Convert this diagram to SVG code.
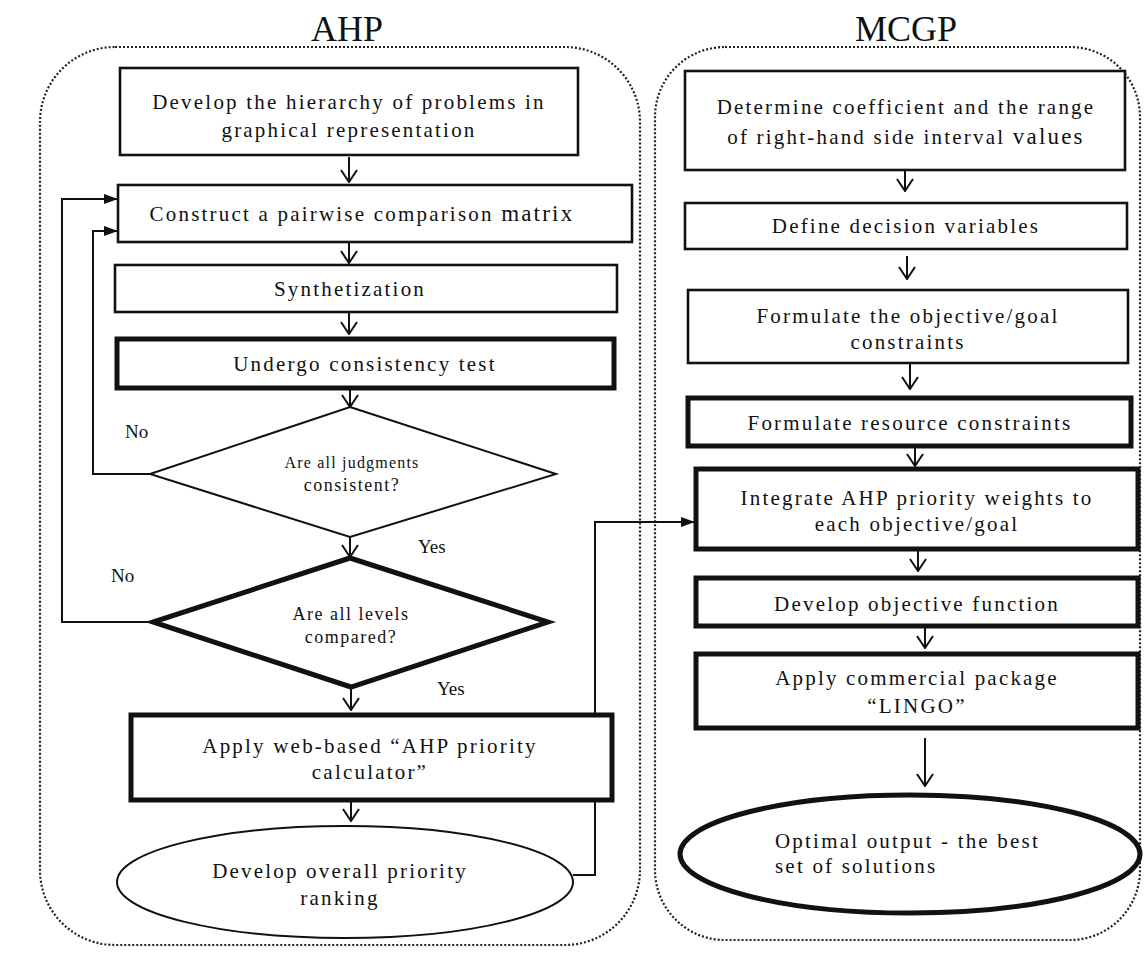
<svg xmlns="http://www.w3.org/2000/svg" width="1145" height="953" viewBox="0 0 1145 953">
<style>
text{font-family:"Liberation Serif","Times New Roman",serif;fill:#111;text-anchor:middle}
.t{font-size:21px;letter-spacing:2.2px}
.s{font-size:16px;letter-spacing:1.2px}
.m{font-size:18px;letter-spacing:1.5px}
.big{font-size:23px}
.title{font-size:36px}
.lbl{font-size:19px;text-anchor:start}
.b{fill:#fff;stroke:#111;stroke-width:2.6}
.k{fill:#fff;stroke:#111;stroke-width:5}
.cont{fill:none;stroke:#222;stroke-width:2.2;stroke-dasharray:2 2}
.c{fill:none;stroke:#111;stroke-width:2}
</style>
<defs>
<marker id="v" viewBox="0 0 14 18" refX="13" refY="9" markerWidth="14" markerHeight="18" markerUnits="userSpaceOnUse" orient="auto">
<path d="M1,1 L13,9 L1,17" fill="none" stroke="#111" stroke-width="2"/>
</marker>
<marker id="f" viewBox="0 0 14 10" refX="14" refY="5" markerWidth="14" markerHeight="10" markerUnits="userSpaceOnUse" orient="auto">
<path d="M0,0 L14,5 L0,10 z" fill="#111"/>
</marker>
</defs>
<rect width="1145" height="953" fill="#fff"/>
<text class="title" x="347" y="41">AHP</text>
<text class="title" x="906" y="41">MCGP</text>
<rect class="cont" x="40" y="47" width="600" height="898" rx="75"/>
<rect class="cont" x="655" y="47" width="485" height="893" rx="70"/>

<g id="connectors">
<line class="c" x1="349" y1="157" x2="349" y2="182" marker-end="url(#v)"/>
<line class="c" x1="349" y1="243" x2="349" y2="263" marker-end="url(#v)"/>
<line class="c" x1="349" y1="313" x2="349" y2="334" marker-end="url(#v)"/>
<line class="c" x1="350" y1="390" x2="350" y2="407" marker-end="url(#v)"/>
<line class="c" x1="350" y1="537" x2="350" y2="557" marker-end="url(#v)"/>
<line class="c" x1="351" y1="688" x2="351" y2="710" marker-end="url(#v)"/>
<line class="c" x1="351" y1="802" x2="351" y2="821" marker-end="url(#v)"/>
<polyline class="c" points="150,474 93,474 93,231 118,231" marker-end="url(#f)"/>
<polyline class="c" points="153,622 62,622 62,199 118,199" marker-end="url(#f)"/>
<polyline class="c" points="573,875 595,875 595,522 695,522" marker-end="url(#f)"/>
<line class="c" x1="905" y1="171" x2="905" y2="191" marker-end="url(#v)"/>
<line class="c" x1="907" y1="256" x2="907" y2="279" marker-end="url(#v)"/>
<line class="c" x1="910" y1="364" x2="910" y2="389" marker-end="url(#v)"/>
<line class="c" x1="915" y1="448" x2="915" y2="466" marker-end="url(#v)"/>
<line class="c" x1="918" y1="551" x2="918" y2="571" marker-end="url(#v)"/>
<line class="c" x1="925" y1="628" x2="925" y2="648" marker-end="url(#v)"/>
<line class="c" x1="925" y1="738" x2="925" y2="786" marker-end="url(#v)"/>
</g>

<g id="ahp1"><rect class="b" x="120" y="68" width="458" height="87"/>
<text class="t" x="349" y="109">Develop the hierarchy of problems in</text>
<text class="t" x="349" y="137">graphical representation</text></g>
<g id="ahp2"><rect class="b" x="118" y="185" width="514" height="57"/>
<text class="t" x="362" y="221">Construct a pairwise comparison <tspan class="big">matrix</tspan></text></g>
<g id="ahp3"><rect class="b" x="115" y="265" width="502" height="47"/>
<text class="t" x="350" y="296">Synthetization</text></g>
<g id="ahp4"><rect class="k" x="117" y="339" width="497" height="49"/>
<text class="t" x="365" y="371">Undergo consistency test</text></g>
<g id="ahp5"><polygon fill="#fff" stroke="#111" stroke-width="2" points="350,407 556,474 350,537 150,474"/>
<text class="s" x="352" y="468">Are all judgments</text>
<text class="m" x="352" y="491">consistent?</text></g>
<g id="ahp6"><polygon fill="#fff" stroke="#111" stroke-width="5" points="350,558 548,622 351,687 153,622"/>
<text class="m" x="351" y="620">Are all levels</text>
<text class="m" x="351" y="643">compared?</text></g>
<g id="ahp7"><rect class="k" x="131" y="715" width="481" height="85"/>
<text class="t" x="370" y="753">Apply web-based “AHP priority</text>
<text class="t" x="370" y="779">calculator”</text></g>
<g id="ahp8"><ellipse fill="#fff" stroke="#111" stroke-width="2" cx="345" cy="882" rx="228" ry="56"/>
<text class="t" x="340" y="878">Develop overall priority</text>
<text class="t" x="340" y="905">ranking</text></g>
<text class="lbl" x="125" y="438">No</text>
<text class="lbl" x="111" y="582">No</text>
<text class="lbl" x="418" y="553">Yes</text>
<text class="lbl" x="437" y="695">Yes</text>

<g id="mcgp1"><rect class="b" x="685" y="71" width="440" height="99"/>
<text class="t" x="906" y="114">Determine coefficient and the range</text>
<text class="t" x="906" y="144">of right-hand side interval <tspan class="big">values</tspan></text></g>
<g id="mcgp2"><rect class="b" x="685" y="203" width="442" height="46"/>
<text class="t" x="906" y="233">Define decision variables</text></g>
<g id="mcgp3"><rect class="b" x="688" y="290" width="440" height="73"/>
<text class="t" x="908" y="323">Formulate the objective/goal</text>
<text class="t" x="908" y="349">constraints</text></g>
<g id="mcgp4"><rect class="k" x="688" y="398" width="443" height="48"/>
<text class="t" x="910" y="430">Formulate resource constraints</text></g>
<g id="mcgp5"><rect class="k" x="696" y="469" width="442" height="80"/>
<text class="t" x="917" y="505">Integrate AHP priority weights to</text>
<text class="t" x="917" y="531">each objective/goal</text></g>
<g id="mcgp6"><rect class="k" x="696" y="578" width="442" height="48"/>
<text class="t" x="917" y="611">Develop objective function</text></g>
<g id="mcgp7"><rect class="k" x="696" y="654" width="442" height="74"/>
<text class="t" x="917" y="685">Apply commercial package</text>
<text class="t" x="917" y="713">“LINGO”</text></g>
<g id="mcgp8"><ellipse fill="#fff" stroke="#111" stroke-width="5" cx="910" cy="854" rx="230" ry="59"/>
<text class="t" x="775" y="848" style="text-anchor:start">Optimal output - the best</text>
<text class="t" x="775" y="873" style="text-anchor:start">set of solutions</text></g>
</svg>
